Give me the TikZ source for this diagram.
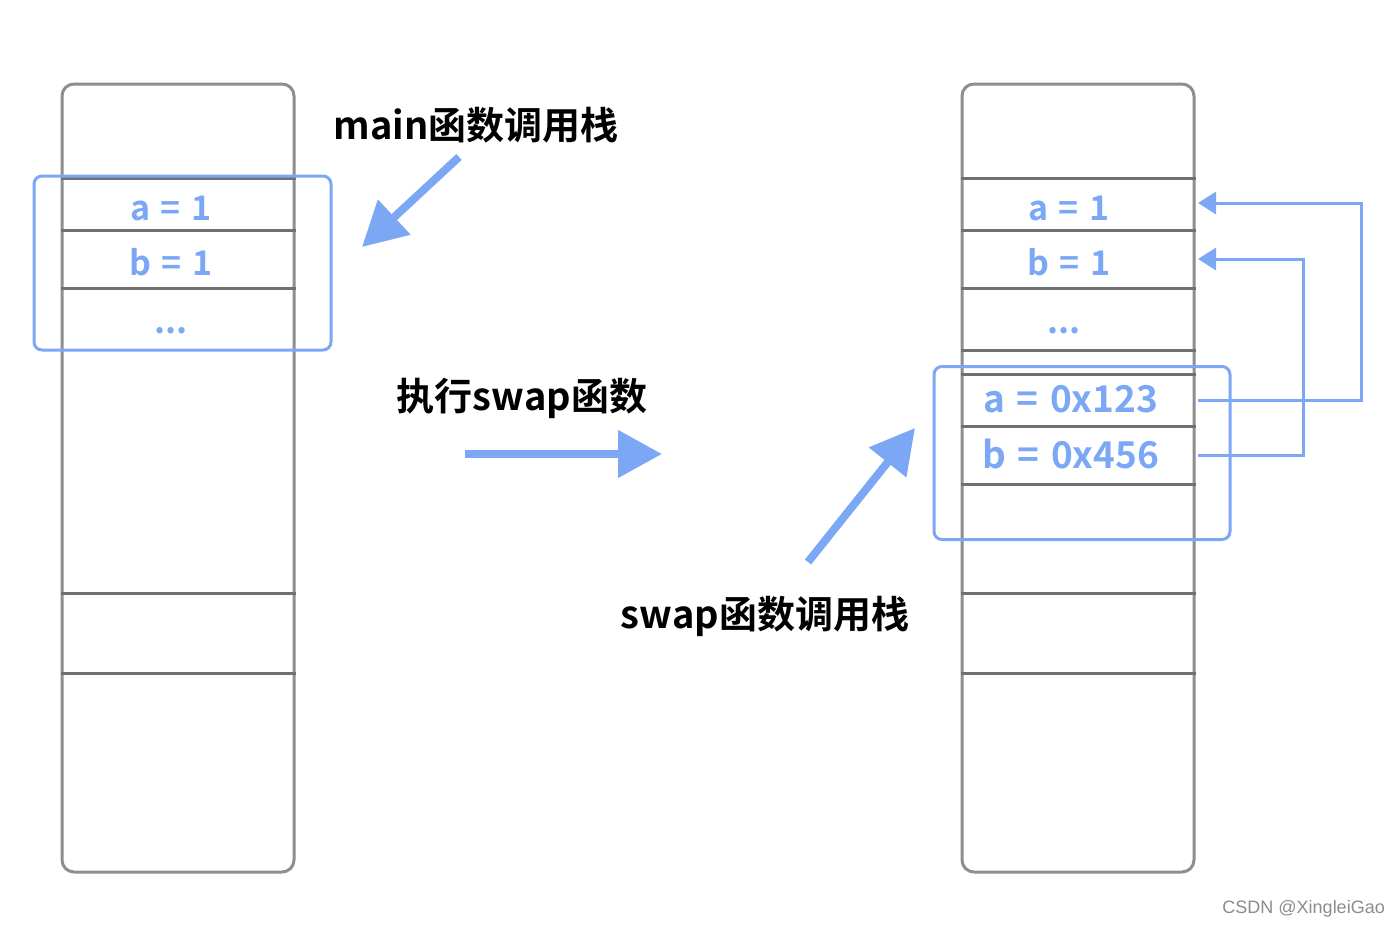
\documentclass[tikz,border=0pt]{standalone}
\usepackage{fontspec}
\setmainfont{Noto Sans}
\newfontfamily\cjk{Noto Sans CJK SC}[BoldFont={Noto Sans CJK SC Bold}]
\newfontfamily\varfont{Noto Sans CJK SC}[BoldFont={Noto Sans CJK SC Bold}, WordSpace=1.35]
\newfontfamily\wmfont{Liberation Sans}
\usetikzlibrary{arrows.meta, positioning, calc}
\definecolor{stackgray}{HTML}{8E8E8E}
\definecolor{rowgray}{HTML}{707070}
\definecolor{ptrblue}{HTML}{7BA7F5}

\begin{document}
\begin{tikzpicture}[
    x=1pt, y=-1pt,
    stackbox/.style={draw=stackgray, line width=3pt, rounded corners=12pt, minimum width=232pt, minimum height=788pt, inner sep=0pt},
    frame/.style={draw=ptrblue, line width=3pt, rounded corners=8pt, inner sep=0pt},
    row/.style={draw=rowgray, line width=3pt},
    var/.style={text=ptrblue, inner sep=0pt, font=\varfont\fontsize{34}{34}\selectfont\bfseries},
    bigvar/.style={var, font=\varfont\fontsize{37}{37}\selectfont\bfseries},
    title/.style={inner sep=0pt, font=\cjk\fontsize{38}{38}\selectfont\bfseries},
    bigarrow/.style={draw=ptrblue, line width=8pt, -{Triangle[length=44pt, width=46pt]}},
    ptrarrow/.style={draw=ptrblue, line width=3pt, -{Triangle[length=18pt, width=22pt]}}
]
\useasboundingbox (0,0) rectangle (1400,929);

% Stacks
\node[stackbox] (lstack) at (178,478) {};
\node[stackbox] (rstack) at (1078,478) {};

% Rows
\foreach \y in {178,230,288,593,673}
  \draw[row] (lstack.west |- 0,\y) -- (lstack.east |- 0,\y);
\foreach \y in {178,230,288,350,374,426,484,593,673}
  \draw[row] (rstack.west |- 0,\y) -- (rstack.east |- 0,\y);

% Variables
\node[var] (la) at (171,208) {a = 1};
\node[var] (lb) at (171,262) {b = 1};
\node[var] (ldots) at (171,331) {...};
\node[var] (ra) at (1069,208) {a = 1};
\node[var] (rb) at (1069,262) {b = 1};
\node[var] (rdots) at (1064,331) {...};
\node[bigvar] (pa) at (1071,399) {a = 0x123};
\node[bigvar] (pb) at (1071,454) {b = 0x456};

% Frames
\node[frame, minimum width=297pt, minimum height=174pt] (mainframe) at (182.5,263) {};
\node[frame, minimum width=296pt, minimum height=173pt] (swapframe) at (1082,453) {};

% Titles
\node[title] (maintitle) at (476,125) {main函数调用栈};
\node[title] (calltitle) at (522,398) {执行swap函数};
\node[title] (swaptitle) at (765,616) {swap函数调用栈};

% Pointers
\coordinate (paout) at (1198,400);
\coordinate (pbout) at (1198,455);
\coordinate (rain) at (1198,203);
\coordinate (rbin) at (1198,259);
\draw[ptrarrow] (paout) -- (1361,400) |- (rain);
\draw[ptrarrow] (pbout) -- (1303,455) |- (rbin);

% Big arrows
\coordinate (mainfrom) at (459,157);
\coordinate (mainto) at (362,247);
\coordinate (callfrom) at (465,454);
\coordinate (callto) at (662,454);
\coordinate (swapfrom) at (808,562);
\coordinate (swapto) at (915,428);
\draw[bigarrow] (mainfrom) -- (mainto);
\draw[bigarrow] (callfrom) -- (callto);
\draw[bigarrow] (swapfrom) -- (swapto);

% Watermark
\node[anchor=east, inner sep=0pt, text=black!45, font=\wmfont\fontsize{18}{18}\selectfont] (mark) at (1385,909) {CSDN @XingleiGao};

\end{tikzpicture}
\end{document}
